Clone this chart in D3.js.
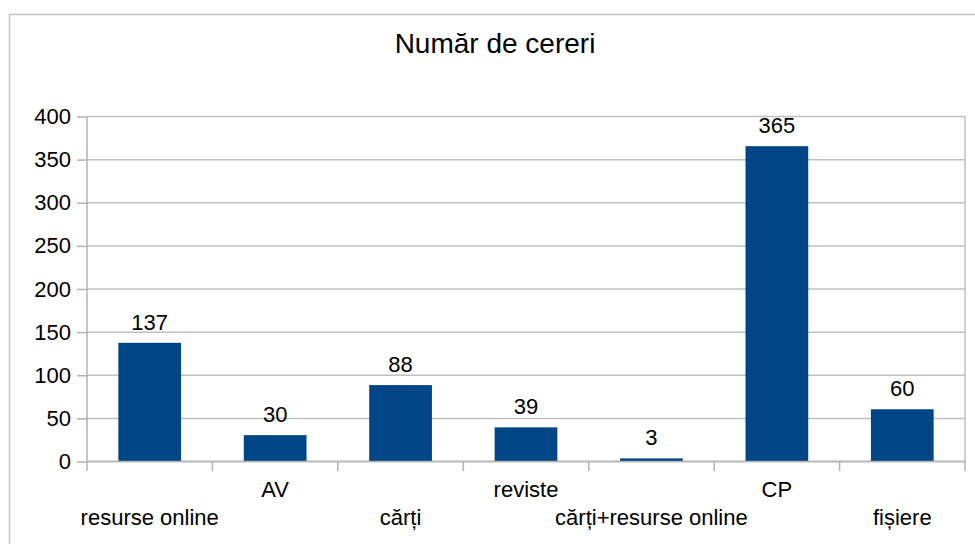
<!DOCTYPE html>
<html>
<head>
<meta charset="utf-8">
<script src="https://cdn.jsdelivr.net/npm/d3@7"></script>
<style>
  body { margin: 0; background: #fff; }
  text { font-family: "Liberation Sans", Arial, sans-serif; fill: #000; }
</style>
</head>
<body>
<script>
var categories = ["resurse online", "AV", "cărți", "reviste", "cărți+resurse online", "CP", "fișiere"];
var requests = [137, 30, 88, 39, 3, 365, 60];
var yTicks = [0, 50, 100, 150, 200, 250, 300, 350, 400];
var chartTitle = "Număr de cereri";

var w = 975;
var h = 544;
// note: "top" is a read-only global in browsers, so use plot* names
var plotLeft = 87, plotRight = 965, plotTop = 116, plotBottom = 461;

var svg = d3.select("body").append("svg").attr("width", w).attr("height", h);

// outer frame
svg.append("rect")
  .attr("x", 9.5).attr("y", 14.5)
  .attr("width", 990).attr("height", 560)
  .attr("fill", "none")
  .attr("stroke", "#c3c3c3")
  .attr("stroke-width", 1.5);

svg.append("text")
  .attr("x", 495).attr("y", 53)
  .attr("text-anchor", "middle")
  .style("font-size", "28px")
  .text(chartTitle);

var xScale = d3.scaleBand()
  .domain(categories)
  .range([plotLeft, plotRight])
  .paddingInner(0.5)
  .paddingOuter(0.25);

var yScale = d3.scaleLinear()
  .domain([0, 400])
  .range([plotBottom, plotTop]);

// gridlines
svg.append("g")
  .selectAll("line")
  .data(yTicks)
  .enter()
  .append("line")
  .attr("x1", plotLeft).attr("x2", plotRight)
  .attr("y1", function (d) { return yScale(d) + 0.5; })
  .attr("y2", function (d) { return yScale(d) + 0.5; })
  .attr("stroke", "#c0c0c0")
  .attr("stroke-width", 1.5);

// right border of plot area
svg.append("line")
  .attr("x1", plotRight).attr("x2", plotRight)
  .attr("y1", plotTop).attr("y2", plotBottom)
  .attr("stroke", "#c0c0c0")
  .attr("stroke-width", 1.5);

// bars
svg.append("g")
  .selectAll("rect")
  .data(requests)
  .enter()
  .append("rect")
  .attr("x", function (d, i) { return xScale(categories[i]); })
  .attr("y", function (d) { return yScale(d); })
  .attr("width", xScale.bandwidth())
  .attr("height", function (d) { return plotBottom - yScale(d); })
  .attr("fill", "#004586");

// value labels
svg.append("g")
  .selectAll("text")
  .data(requests)
  .enter()
  .append("text")
  .attr("x", function (d, i) { return xScale(categories[i]) + xScale.bandwidth() / 2; })
  .attr("y", function (d) { return yScale(d) - 13; })
  .attr("text-anchor", "middle")
  .style("font-size", "22px")
  .text(function (d) { return d; });

// y axis
var yAxis = d3.axisLeft(yScale).tickValues(yTicks).tickSize(10).tickPadding(6);
var gy = svg.append("g").attr("transform", "translate(" + plotLeft + ",0.5)").call(yAxis);
gy.selectAll("line, path").attr("stroke", "#b3b3b3").attr("stroke-width", 1.5);
gy.select(".domain").attr("d", "M0," + plotTop + "V" + plotBottom);
gy.selectAll("text").style("font-size", "22px").attr("fill", "#000").attr("font-family", null);

// x axis: boundaries between categories
var xBounds = categories.map(function (c) { return xScale(c) - xScale.step() * 0.25; });
xBounds.push(plotRight);
var gx = svg.append("g");
gx.append("line")
  .attr("x1", plotLeft).attr("x2", plotRight)
  .attr("y1", plotBottom + 0.5).attr("y2", plotBottom + 0.5)
  .attr("stroke", "#b3b3b3").attr("stroke-width", 1.5);
gx.selectAll("line.tick")
  .data(xBounds)
  .enter()
  .append("line")
  .attr("class", "tick")
  .attr("x1", function (d) { return d; })
  .attr("x2", function (d) { return d; })
  .attr("y1", plotBottom).attr("y2", plotBottom + 10)
  .attr("stroke", "#b3b3b3").attr("stroke-width", 1.5);

// staggered category labels
gx.selectAll("text")
  .data(categories)
  .enter()
  .append("text")
  .attr("x", function (d) { return xScale(d) + xScale.bandwidth() / 2; })
  .attr("y", function (d, i) { return i % 2 === 0 ? 525 : 497; })
  .attr("text-anchor", "middle")
  .style("font-size", "22px")
  .text(function (d) { return d; });
</script>
</body>
</html>
